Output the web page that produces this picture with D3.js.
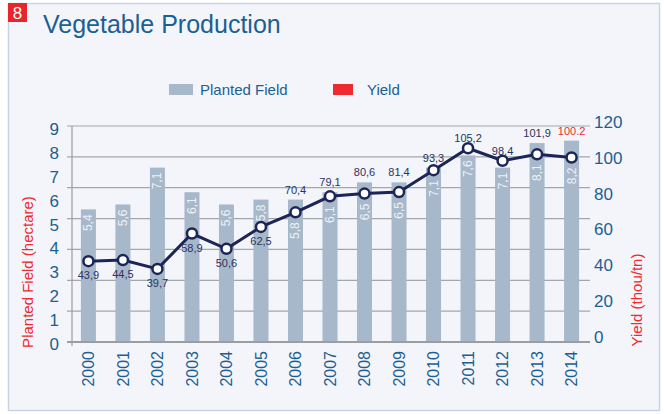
<!DOCTYPE html>
<html lang="en">
<head>
<style>
  body { margin: 0; background: #fff; }
  svg text { font-family: "Liberation Sans Narrow", "Arial Narrow", "Liberation Sans", sans-serif; }
</style>
<title>Vegetable Production</title>
</head>
<body>
<div id="chart"></div>
<script src="https://d3js.org/d3.v7.min.js"></script>
<script>
const years = ["2000","2001","2002","2003","2004","2005","2006","2007","2008","2009","2010","2011","2012","2013","2014"];
const plantedField = [5.4, 5.6, 7.1, 6.1, 5.6, 5.8, 5.8, 6.1, 6.5, 6.5, 7.1, 7.6, 7.1, 8.1, 8.2];
const yieldVals = [43.9, 44.5, 39.7, 58.9, 50.6, 62.5, 70.4, 79.1, 80.6, 81.4, 93.3, 105.2, 98.4, 101.9, 100.2];
const leftTicks = [0, 1, 2, 3, 4, 5, 6, 7, 8, 9];
const rightTicks = [0, 20, 40, 60, 80, 100, 120];

const W = 664, H = 414;
const blue = "#1b5f93", red = "#ee2a2f", barColor = "#a6b8ca", lineColor = "#1d2556";

const svg = d3.select("#chart").append("svg")
    .attr("width", W).attr("height", H);

// panel
svg.append("rect").attr("x", 8.5).attr("y", 3.5).attr("width", 651).attr("height", 407)
    .attr("fill", "#f3f5fa").attr("stroke", "#c9d4e2").attr("stroke-width", 1.5);
svg.append("rect").attr("x", 8).attr("y", 3).attr("width", 19).attr("height", 19).attr("fill", "#e8252b");
svg.append("text").attr("x", 17.5).attr("y", 19).attr("text-anchor", "middle")
    .attr("fill", "#fff").attr("font-size", 17).text("8");
svg.append("text").attr("x", 43).attr("y", 33).attr("fill", blue)
    .attr("font-size", 25).text("Vegetable Production");

// legend
svg.append("rect").attr("x", 169).attr("y", 84).attr("width", 24).attr("height", 11).attr("fill", barColor);
svg.append("text").attr("x", 200).attr("y", 95).attr("fill", blue).attr("font-size", 15).text("Planted  Field");
svg.append("rect").attr("x", 333).attr("y", 84).attr("width", 20).attr("height", 11).attr("fill", red);
svg.append("text").attr("x", 367).attr("y", 95).attr("fill", blue).attr("font-size", 15).text("Yield");

const x = d3.scaleBand().domain(years).range([71.25, 588.75]).paddingInner(0.565).paddingOuter(0.28);
const yL = d3.scaleLinear().domain([0, 9]).range([342, 121]);
const yR = d3.scaleLinear().domain([0, 120]).range([342, 121]);
// tick label placement in the original is slightly off the data scales
const yLabL = d3.scaleLinear().domain([0, 9]).range([344, 129]);
const yLabR = d3.scaleLinear().domain([0, 120]).range([337, 122]);
const grid = d3.scaleLinear().domain([0, 7]).range([342, 126]);

// gridlines
svg.append("g").selectAll("line").data(d3.range(1, 8)).join("line")
    .attr("x1", 67).attr("x2", 590)
    .attr("y1", d => grid(d)).attr("y2", d => grid(d))
    .attr("stroke", "#a3a6ab").attr("stroke-width", 1.2);

// bars
svg.append("g").selectAll("rect").data(years).join("rect")
    .attr("x", d => x(d)).attr("width", x.bandwidth())
    .attr("y", (d, i) => yL(plantedField[i]))
    .attr("height", (d, i) => yL(0) - yL(plantedField[i]))
    .attr("fill", barColor);

// baseline + left axis line
svg.append("line").attr("x1", 67).attr("x2", 590).attr("y1", 342).attr("y2", 342)
    .attr("stroke", "#9a9da2").attr("stroke-width", 2);
svg.append("line").attr("x1", 72).attr("x2", 72).attr("y1", 126).attr("y2", 346)
    .attr("stroke", "#9a9da2").attr("stroke-width", 1.2);

// axes text
const leftAxis = d3.axisLeft(yLabL).tickValues(leftTicks).tickSize(0).tickPadding(10);
const gl = svg.append("g").attr("transform", "translate(69,0)").call(leftAxis);
gl.select(".domain").remove();
gl.selectAll("text").attr("fill", blue).attr("font-size", 17)
    .attr("font-family", "\"Liberation Sans Narrow\", sans-serif");

const rightAxis = d3.axisRight(yLabR).tickValues(rightTicks).tickSize(0).tickPadding(0);
const gr = svg.append("g").attr("transform", "translate(594,0)").call(rightAxis);
gr.select(".domain").remove();
gr.selectAll("text").attr("fill", blue).attr("font-size", 17)
    .attr("font-family", "\"Liberation Sans Narrow\", sans-serif");

const bottomAxis = d3.axisBottom(x).tickSize(0);
const gb = svg.append("g").attr("transform", "translate(0,342)").call(bottomAxis);
gb.select(".domain").remove();
gb.selectAll("text").attr("fill", blue).attr("font-size", 16)
    .attr("font-family", "\"Liberation Sans Narrow\", sans-serif")
    .attr("text-anchor", "end").attr("dy", "0.35em")
    .attr("transform", "translate(0,9) rotate(-90)").attr("x", 0).attr("y", 0);

svg.append("text").attr("transform", "translate(33,272) rotate(-90)")
    .attr("text-anchor", "middle").attr("fill", red).attr("font-size", 15)
    .text("Planted Field (hectare)");
svg.append("text").attr("transform", "translate(642,300) rotate(-90)")
    .attr("text-anchor", "middle").attr("fill", red).attr("font-size", 15)
    .text("Yield (thou/tn)");

const cx = d => x(d) + x.bandwidth() / 2;
const fmt = v => String(v).replace(".", ",");

// bar value labels
svg.append("g").selectAll("text").data(years).join("text")
    .attr("transform", (d, i) => {
        const top = yL(plantedField[i]);
        const py = yR(yieldVals[i]);
        const t = (py - top < 25) ? Math.max(top + 5, py + 10) : top + 5;
        return `translate(${cx(d) + 4},${t}) rotate(-90)`;
    })
    .attr("text-anchor", "end").attr("fill", "#eef1f5").attr("font-size", 12)
    .text((d, i) => fmt(plantedField[i]));

// line
const line = d3.line().x((d, i) => cx(years[i])).y(d => yR(d));
svg.append("path").datum(yieldVals).attr("d", line)
    .attr("fill", "none").attr("stroke", lineColor).attr("stroke-width", 3);
svg.append("g").selectAll("circle").data(yieldVals).join("circle")
    .attr("cx", (d, i) => cx(years[i])).attr("cy", d => yR(d)).attr("r", 5)
    .attr("fill", "#fff").attr("stroke", lineColor).attr("stroke-width", 2.5);

// yield labels
svg.append("g").selectAll("text").data(yieldVals).join("text")
    .attr("x", (d, i) => cx(years[i]))
    .attr("y", (d, i) => {
        const py = yR(d), top = yL(plantedField[i]);
        if (i < 6) return py + 18;
        return Math.min(py, top) - 6;
    })
    .attr("text-anchor", "middle").attr("font-size", 11)
    .attr("fill", (d, i) => i === yieldVals.length - 1 ? red : "#2b3360")
    .text((d, i) => i === yieldVals.length - 1 ? String(d) : fmt(d));
</script>
</body>
</html>
